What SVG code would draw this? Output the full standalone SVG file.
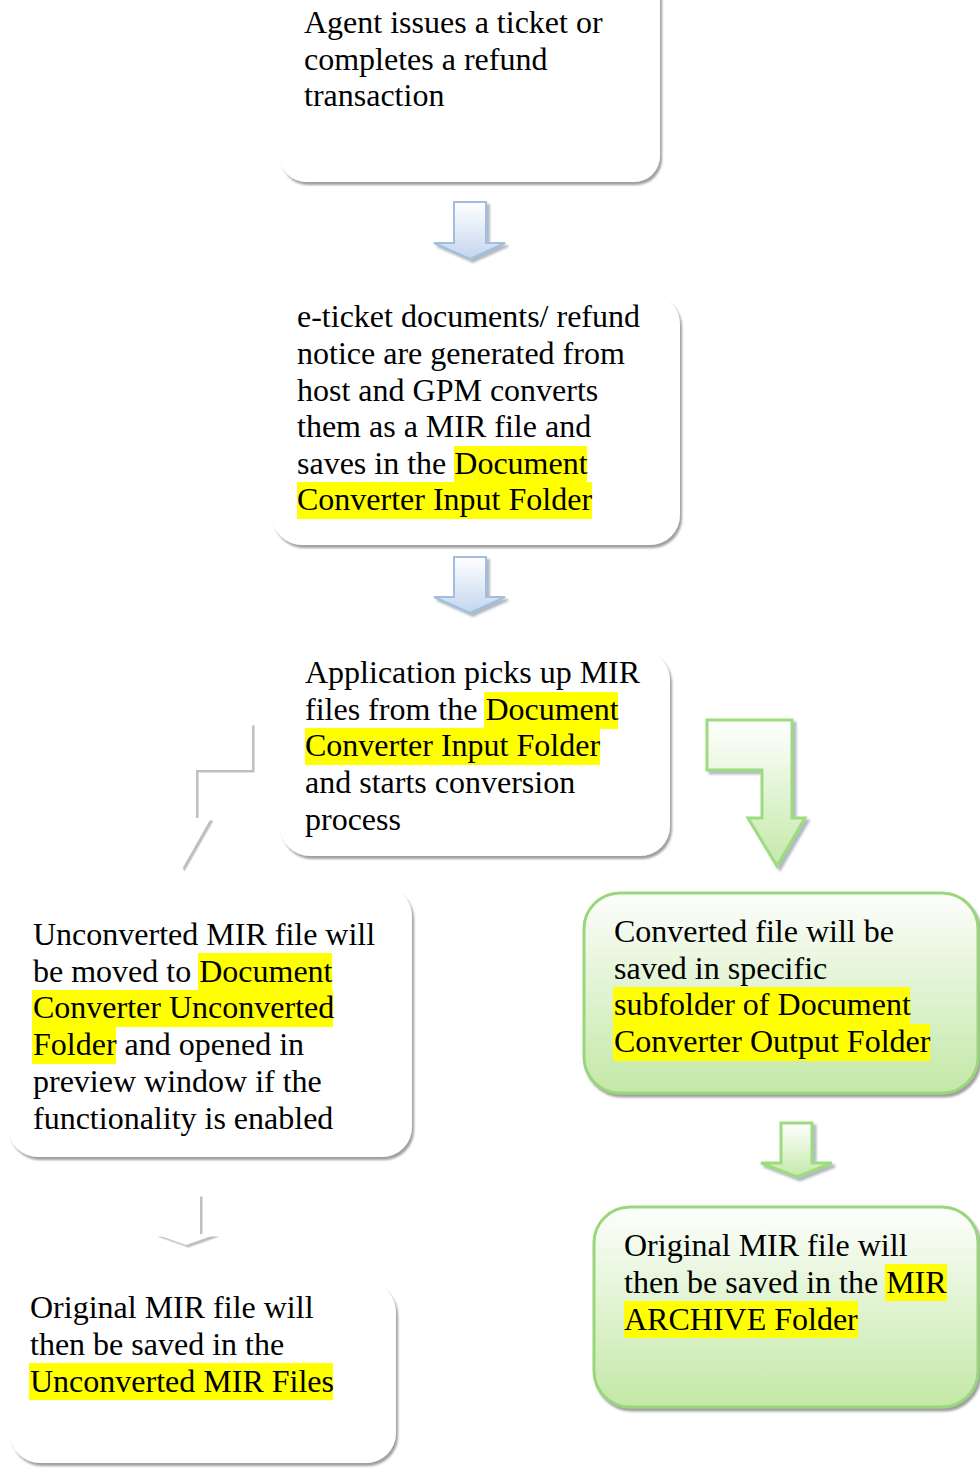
<svg xmlns="http://www.w3.org/2000/svg" width="980" height="1468" viewBox="0 0 980 1468">
<defs>
<style>
text{font-family:"Liberation Serif","Times New Roman",serif;font-size:32px;fill:#000}
.wbox{fill:#fff;filter:url(#sh)}
.gbox{fill:url(#gg);stroke:#9ad77b;stroke-width:3;filter:url(#sh)}
.hl{fill:#ffff00}
.barrow{fill:url(#bg);stroke:#a3bde0;stroke-width:2;filter:url(#sh2)}
.garrow{fill:url(#ga);stroke:#9ddc7e;stroke-width:3;filter:url(#sh2)}
.ghost{fill:#fff;filter:url(#sh3)}
</style>
<linearGradient id="gg" x1="0" y1="0" x2="0" y2="1">
<stop offset="0" stop-color="#fdfefc"/><stop offset="1" stop-color="#c3e8a6"/>
</linearGradient>
<linearGradient id="ga" x1="0" y1="0" x2="0" y2="1">
<stop offset="0" stop-color="#ffffff"/><stop offset="1" stop-color="#c4e9a8"/>
</linearGradient>
<linearGradient id="bg" x1="0" y1="0" x2="0" y2="1">
<stop offset="0" stop-color="#ffffff"/><stop offset="1" stop-color="#c3d6ef"/>
</linearGradient>
<filter id="sh" x="-10%" y="-10%" width="120%" height="120%">
<feDropShadow dx="2" dy="3" stdDeviation="1.3" flood-color="#7f7f7f" flood-opacity="0.75"/>
</filter>
<filter id="sh2" x="-20%" y="-20%" width="140%" height="140%">
<feDropShadow dx="3" dy="3" stdDeviation="1" flood-color="#6f7f8f" flood-opacity="0.55"/>
</filter>
<filter id="sh3" x="-20%" y="-20%" width="140%" height="140%">
<feDropShadow dx="2.5" dy="2.5" stdDeviation="0.3" flood-color="#b4b4b4" flood-opacity="0.85"/>
</filter>
</defs>

<g id="connectors">
<path class="barrow" d="M454,202 H486 V243 H505 L470,259 L434,243 H454 Z"/>
<path class="barrow" d="M454,557 H486 V597 H505 L470,613 L434,597 H454 Z"/>
<path class="garrow" d="M707,720 H792 V818 H805 L777,866 L748,818 H762 V770 H707 Z"/>
<path class="garrow" d="M781,1123 H812 V1163 H832 L797,1177 L761,1163 H781 Z"/>
<path class="ghost" d="M252,723 H167 V818 H154 L182,869 L211,818 H196 V770 H252 Z"/>
<path class="ghost" d="M172,1194 H200 V1234 H217 L186,1245 L155,1234 H172 Z"/>
</g>

<g id="node-agent">
<rect class="wbox" x="280" y="-30" width="380" height="212" rx="26"/>
<text x="304" y="33">Agent issues a ticket or</text>
<text x="304" y="70">completes a refund</text>
<text x="304" y="106">transaction</text>
</g>

<g id="node-eticket">
<rect class="wbox" x="272" y="294" width="408" height="251" rx="30"/>
<rect class="hl" x="454" y="446" width="133" height="37"/>
<rect class="hl" x="297" y="482" width="295" height="37"/>
<text x="297" y="327">e-ticket documents/ refund</text>
<text x="297" y="364">notice are generated from</text>
<text x="297" y="401">host and GPM converts</text>
<text x="297" y="437">them as a MIR file and</text>
<text x="297" y="474">saves in the Document</text>
<text x="297" y="510">Converter Input Folder</text>
</g>

<g id="node-application">
<rect class="wbox" x="280" y="650" width="390" height="206" rx="30"/>
<rect class="hl" x="484" y="692" width="134" height="37"/>
<rect class="hl" x="305" y="728" width="295" height="37"/>
<text x="305" y="683">Application picks up MIR</text>
<text x="305" y="720">files from the Document</text>
<text x="305" y="756">Converter Input Folder</text>
<text x="305" y="793">and starts conversion</text>
<text x="305" y="830">process</text>
</g>

<g id="node-unconverted">
<rect class="wbox" x="8" y="886" width="404" height="271" rx="30"/>
<rect class="hl" x="198" y="953" width="134" height="37"/>
<rect class="hl" x="32" y="990" width="301" height="37"/>
<rect class="hl" x="32" y="1027" width="84" height="37"/>
<text x="33" y="945">Unconverted MIR file will</text>
<text x="33" y="982">be moved to Document</text>
<text x="33" y="1018">Converter Unconverted</text>
<text x="33" y="1055">Folder and opened in</text>
<text x="33" y="1092">preview window if the</text>
<text x="33" y="1129">functionality is enabled</text>
</g>

<g id="node-unconverted-files">
<rect class="wbox" x="10" y="1282" width="386" height="181" rx="30"/>
<rect class="hl" x="29" y="1363" width="304" height="37"/>
<text x="30" y="1318">Original MIR file will</text>
<text x="30" y="1355">then be saved in the</text>
<text x="30" y="1392">Unconverted MIR Files</text>
</g>

<g id="node-converted">
<rect class="gbox" x="584" y="893" width="394" height="200" rx="36"/>
<rect class="hl" x="613" y="987" width="297" height="37"/>
<rect class="hl" x="613" y="1024" width="317" height="37"/>
<text x="614" y="942">Converted file will be</text>
<text x="614" y="979">saved in specific</text>
<text x="614" y="1015">subfolder of Document</text>
<text x="614" y="1052">Converter Output Folder</text>
</g>

<g id="node-archive">
<rect class="gbox" x="594" y="1207" width="384" height="200" rx="36"/>
<rect class="hl" x="885" y="1264" width="62" height="37"/>
<rect class="hl" x="624" y="1301" width="234" height="37"/>
<text x="624" y="1256">Original MIR file will</text>
<text x="624" y="1293">then be saved in the MIR</text>
<text x="624" y="1330">ARCHIVE Folder</text>
</g>
</svg>
